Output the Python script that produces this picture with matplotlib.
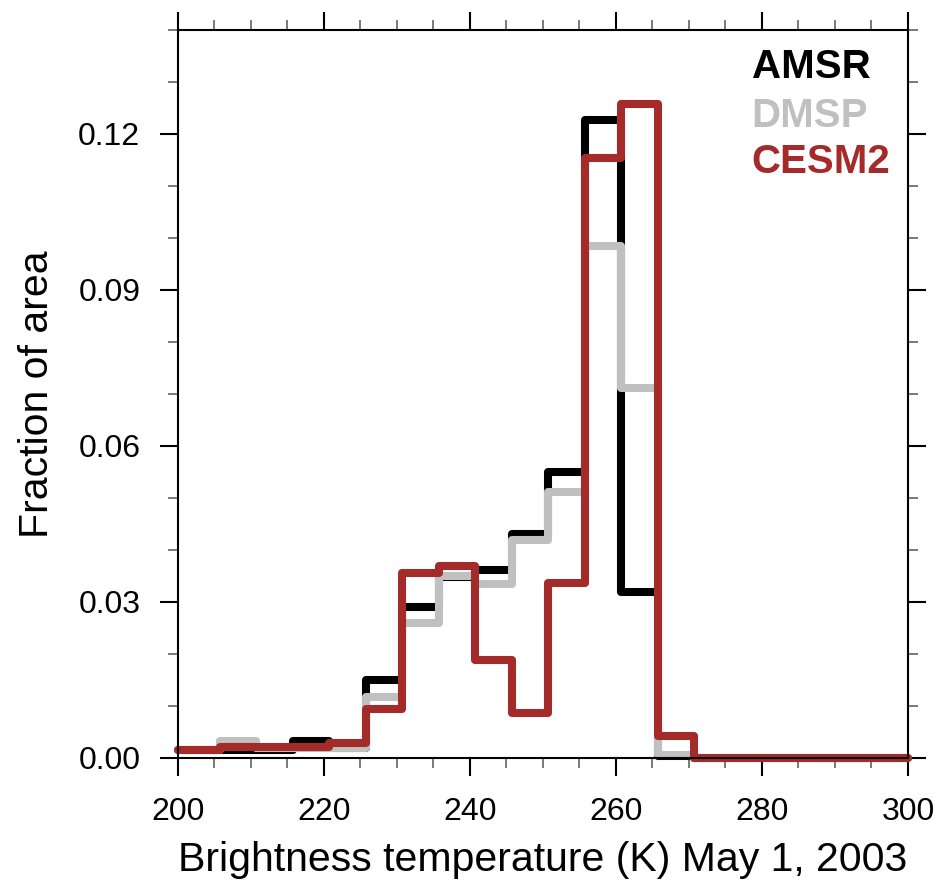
import numpy as np
import matplotlib
matplotlib.use("Agg")
import matplotlib.pyplot as plt
from matplotlib.ticker import MultipleLocator

plt.rcParams['font.family'] = ['Liberation Sans', 'DejaVu Sans']

# bin edges (K), last edge closes the plot at 300
edges = [200, 205.75, 210.75, 215.75, 220.75, 225.75, 230.75, 235.75, 240.75,
         245.75, 250.75, 255.75, 260.75, 265.75, 270.75, 275.75, 280.75, 285.75,
         290.75, 295.75, 300]

amsr = [0.0015, 0.0015, 0.0015, 0.0032, 0.0020, 0.0150, 0.0290, 0.0348, 0.0362,
        0.0430, 0.0550, 0.1227, 0.0320, 0.0003, 0, 0, 0, 0, 0, 0]
dmsp = [0.0015, 0.0033, 0.0020, 0.0020, 0.0020, 0.0118, 0.0260, 0.0350, 0.0335,
        0.0420, 0.0512, 0.0985, 0.0712, 0.0006, 0, 0, 0, 0, 0, 0]
cesm = [0.0015, 0.0022, 0.0022, 0.0022, 0.0028, 0.0095, 0.0356, 0.0370, 0.0188,
        0.0087, 0.0337, 0.1154, 0.1258, 0.0042, 0, 0, 0, 0, 0, 0]

names = ["AMSR", "DMSP", "CESM2"]
colors = ["black", "#c0c0c0", "#a52a2a"]

fig = plt.figure(figsize=(9.36, 8.88), dpi=100)
ax = fig.add_axes([0.190, 0.1464, 0.780, 0.8199])

for vals, c in zip([amsr, dmsp, cesm], colors):
    y = list(vals) + [vals[-1]]
    ax.step(edges, y, where="post", color=c, lw=5.8,
            solid_joinstyle="round", solid_capstyle="round", clip_on=False)

ax.set_xlim(200, 300)
ax.set_ylim(0, 0.14)
ax.xaxis.set_major_locator(MultipleLocator(20))
ax.xaxis.set_minor_locator(MultipleLocator(5))
ax.yaxis.set_major_locator(MultipleLocator(0.03))
ax.yaxis.set_minor_locator(MultipleLocator(0.01))
ax.yaxis.set_major_formatter(lambda v, p: "%.2f" % v)

ax.tick_params(which="both", direction="out", top=True, right=True,
               labelsize=23)
ax.tick_params(axis="y", pad=14)
ax.tick_params(axis="x", pad=15)
ax.tick_params(which="major", length=13, width=1.5)
ax.tick_params(which="minor", length=7, width=1.1, color="#555555")
for s in ax.spines.values():
    s.set_linewidth(1.5)

ax.set_xlabel("Brightness temperature (K) May 1, 2003", fontsize=29.5, labelpad=10)
ax.set_ylabel("Fraction of area", fontsize=29.5, labelpad=16)

ys = [0.949, 0.882, 0.819]
for n, c, yy in zip(names, colors, ys):
    ax.text(0.786, yy, n, transform=ax.transAxes, color=c, fontsize=29,
            fontweight="bold", va="center", ha="left")

fig.savefig("out.png", dpi=100)
